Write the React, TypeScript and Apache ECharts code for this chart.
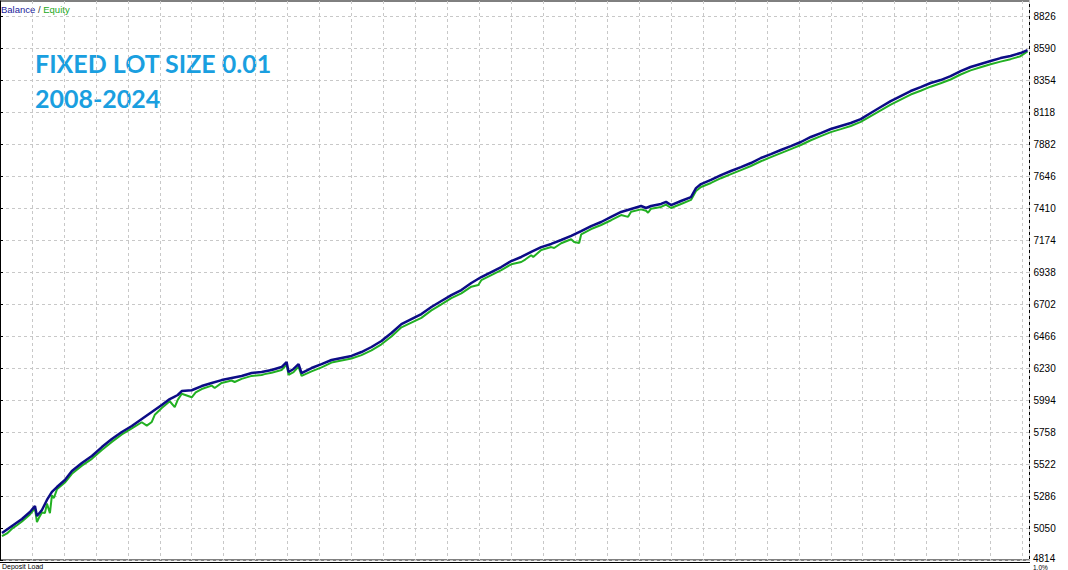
import React, { useEffect, useRef } from "react";
import * as echarts from "echarts";

// Trade positions (horizontal axis, trade progress) and account values
const balanceTrades = [2, 12, 22, 30, 35, 37, 42, 47, 52, 57, 65, 72, 82, 92, 102, 112, 122, 132, 142, 152, 162, 170, 174, 178, 182, 192, 202, 212, 222, 232, 242, 252, 262, 272, 282, 287, 289, 294, 299, 302, 312, 322, 332, 342, 352, 362, 372, 382, 392, 402, 412, 422, 432, 442, 452, 462, 472, 482, 492, 502, 512, 522, 532, 542, 552, 562, 572, 582, 592, 602, 612, 622, 632, 642, 647, 652, 662, 667, 672, 682, 692, 697, 702, 712, 722, 732, 742, 752, 762, 772, 782, 792, 802, 812, 822, 832, 842, 852, 862, 872, 882, 892, 902, 912, 922, 932, 942, 952, 962, 972, 982, 992, 1002, 1012, 1022, 1029];
const balanceValues = [5013, 5065, 5116, 5168, 5212, 5138, 5183, 5257, 5316, 5352, 5404, 5470, 5529, 5581, 5647, 5706, 5758, 5802, 5854, 5905, 5957, 6001, 6016, 6031, 6060, 6066, 6097, 6119, 6141, 6156, 6171, 6193, 6201, 6215, 6237, 6274, 6201, 6223, 6259, 6193, 6230, 6259, 6289, 6304, 6319, 6348, 6385, 6429, 6488, 6554, 6591, 6628, 6680, 6724, 6768, 6805, 6857, 6901, 6938, 6975, 7019, 7049, 7086, 7122, 7145, 7174, 7204, 7240, 7277, 7307, 7344, 7381, 7403, 7425, 7410, 7425, 7440, 7455, 7432, 7462, 7491, 7557, 7587, 7617, 7653, 7683, 7712, 7742, 7779, 7808, 7838, 7867, 7897, 7934, 7963, 7993, 8015, 8037, 8066, 8111, 8155, 8199, 8236, 8273, 8302, 8332, 8354, 8383, 8420, 8450, 8472, 8494, 8516, 8531, 8553, 8575];

const equityTrades = [2, 7, 12, 17, 22, 30, 35, 37, 39, 42, 45, 47, 50, 52, 54, 57, 65, 72, 82, 92, 102, 112, 122, 132, 142, 147, 152, 155, 162, 170, 175, 178, 182, 192, 196, 202, 212, 215, 222, 232, 235, 242, 252, 262, 265, 272, 282, 287, 289, 294, 299, 302, 312, 322, 332, 342, 352, 362, 372, 382, 392, 402, 412, 422, 432, 442, 452, 462, 472, 479, 482, 492, 502, 512, 522, 526, 532, 534, 542, 552, 555, 562, 572, 575, 580, 582, 592, 602, 612, 622, 629, 632, 642, 647, 649, 652, 662, 667, 672, 682, 692, 697, 702, 712, 722, 732, 742, 752, 762, 772, 782, 792, 802, 812, 822, 832, 842, 852, 862, 872, 882, 892, 902, 912, 922, 932, 942, 952, 962, 972, 982, 992, 1002, 1012, 1022, 1029];
const equityValues = [4990, 5010, 5045, 5070, 5098, 5150, 5195, 5094, 5125, 5165, 5160, 5230, 5160, 5290, 5271, 5335, 5385, 5450, 5510, 5560, 5625, 5685, 5740, 5785, 5830, 5805, 5832, 5885, 5935, 5985, 5942, 5995, 6040, 6014, 6050, 6075, 6100, 6083, 6120, 6138, 6127, 6150, 6172, 6178, 6185, 6195, 6215, 6255, 6180, 6200, 6240, 6172, 6205, 6235, 6270, 6285, 6300, 6325, 6360, 6405, 6462, 6530, 6565, 6600, 6655, 6700, 6745, 6780, 6830, 6842, 6878, 6915, 6952, 6995, 7012, 7030, 7062, 7049, 7100, 7122, 7115, 7150, 7180, 7159, 7152, 7215, 7255, 7285, 7320, 7358, 7345, 7383, 7400, 7390, 7375, 7405, 7418, 7435, 7410, 7440, 7470, 7535, 7565, 7595, 7630, 7660, 7690, 7720, 7755, 7785, 7815, 7845, 7875, 7910, 7940, 7970, 7992, 8015, 8045, 8088, 8130, 8172, 8210, 8247, 8275, 8305, 8330, 8358, 8395, 8425, 8448, 8470, 8490, 8508, 8530, 8565];

const yTicks = [4814, 5050, 5286, 5522, 5758, 5994, 6230, 6466, 6702, 6938, 7174, 7410, 7646, 7882, 8118, 8354, 8590, 8826];

const titleLines = ["FIXED LOT SIZE 0.01", "2008-2024"];

export default function App() {
  const ref = useRef<HTMLDivElement>(null);
  useEffect(() => {
    document.body.style.margin = "0";
    if (!ref.current) return;
    const chart = echarts.init(ref.current, null, { renderer: "svg" });
    const bal = balanceTrades.map((t, i) => [t, balanceValues[i]]);
    const eq = equityTrades.map((t, i) => [t, equityValues[i]]);
    chart.setOption({
      animation: false,
      backgroundColor: "#ffffff",
      grid: {
        left: -2,
        right: 38.5,
        top: 1,
        bottom: 10,
        show: true,
        borderColor: "#000000",
        borderWidth: 1,
        backgroundColor: "transparent",
      },
      xAxis: {
        type: "value",
        min: 0,
        max: 1031,
        interval: 32,
        axisLine: { show: false },
        axisTick: { show: false },
        axisLabel: { show: false },
        splitLine: {
          show: true,
          lineStyle: { color: "#c8c8c8", type: [3, 3], width: 1 },
        },
      },
      yAxis: {
        type: "value",
        position: "right",
        min: yTicks[0],
        max: 8937,
        axisLine: { show: true, lineStyle: { color: "#000000", width: 1 } },
        axisTick: {
          show: true,
          length: 3,
          customValues: yTicks,
          lineStyle: { color: "#000000" },
        },
        axisLabel: {
          show: true,
          customValues: yTicks.slice(1),
          margin: 4,
          color: "#000000",
          fontFamily: "Liberation Sans",
          fontSize: 10,
          formatter: (v: number) => String(v),
        },
        splitLine: {
          show: true,
          lineStyle: { color: "#c8c8c8", type: [3, 3], width: 1 },
        },
      },
      series: [
        {
          name: "Equity",
          type: "line",
          data: eq,
          symbol: "none",
          lineStyle: { color: "#22b022", width: 2 },
          z: 2,
        },
        {
          name: "Balance",
          type: "line",
          data: bal,
          symbol: "none",
          lineStyle: { color: "#0c0c86", width: 2.5 },
          z: 3,
        },
      ],
      graphic: [
        {
          type: "text",
          left: 1,
          top: 4,
          style: {
            text: "{b|Balance} / {e|Equity}",
            fontFamily: "Liberation Sans",
            fontSize: 9.5,
            fill: "#333333",
            rich: {
              b: { fill: "#1a1a9a", fontFamily: "Liberation Sans", fontSize: 9.5 },
              e: { fill: "#22a822", fontFamily: "Liberation Sans", fontSize: 9.5 },
            },
          },
        },
        {
          type: "text",
          x: 35,
          y: 63,
          style: {
            text: titleLines[0],
            fontFamily: "Lato",
            fontWeight: "bold",
            fontSize: 25,
            fill: "#1a9fe0",
            verticalAlign: "middle",
          },
        },
        {
          type: "text",
          x: 35,
          y: 98,
          style: {
            text: titleLines[1],
            fontFamily: "Lato",
            fontWeight: "bold",
            fontSize: 25,
            fill: "#1a9fe0",
            verticalAlign: "middle",
          },
        },
        {
          type: "line",
          shape: { x1: 0, y1: 562.5, x2: 1030, y2: 562.5 },
          style: { stroke: "#000000", lineWidth: 1 },
        },
        {
          type: "text",
          x: 1033,
          y: 563,
          style: {
            text: String(yTicks[0]),
            fontFamily: "Liberation Sans",
            fontSize: 10,
            fill: "#000000",
            verticalAlign: "bottom",
          },
        },
        {
          type: "text",
          x: 2,
          y: 563,
          style: {
            text: "Deposit Load",
            fontFamily: "Liberation Sans",
            fontSize: 7,
            fill: "#000000",
            verticalAlign: "top",
          },
        },
        {
          type: "text",
          x: 1033,
          y: 563.5,
          style: {
            text: "1.0%",
            fontFamily: "Liberation Sans",
            fontSize: 6.5,
            fill: "#000000",
            verticalAlign: "top",
          },
        },
      ],
    });
    return () => chart.dispose();
  }, []);
  return <div ref={ref} style={{ width: 1068, height: 570 }} />;
}
